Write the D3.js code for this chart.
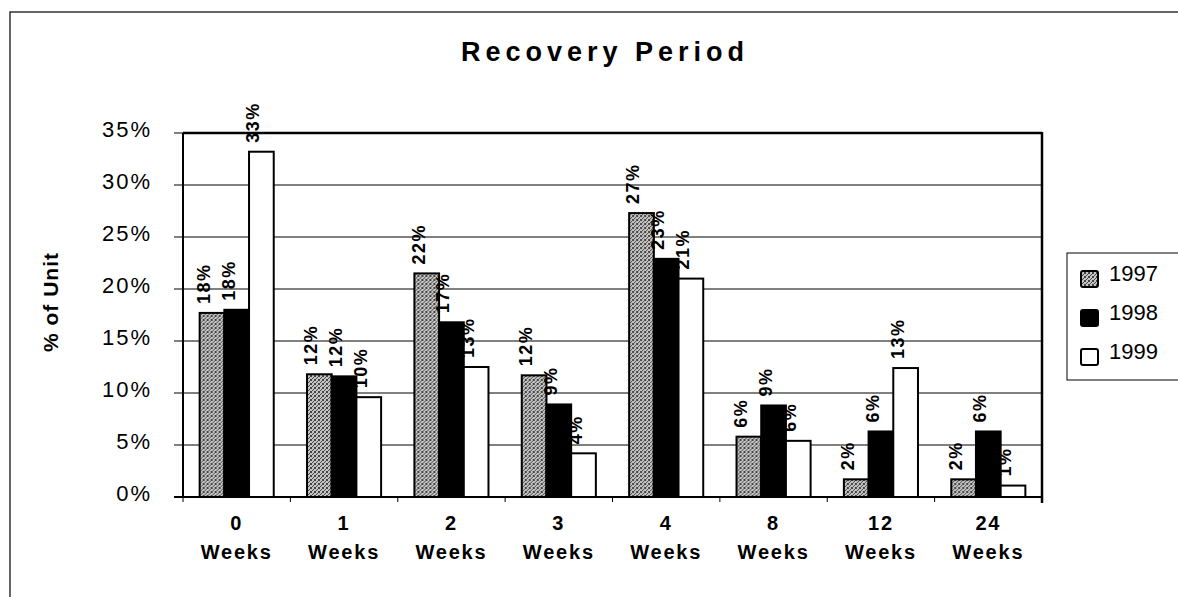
<!DOCTYPE html>
<meta charset="utf-8">
<style>
body { margin: 0; background: #fff; }
svg { display: block; font-family: "Liberation Sans", Arial, sans-serif; }
.grid line { stroke: #000; stroke-width: 1; }
.ytick { font-size: 22px; letter-spacing: 2px; }
.xtick { font-size: 20px; font-weight: bold; letter-spacing: 1.8px; }
.lbl { font-size: 18px; font-weight: bold; letter-spacing: 1.5px; }
</style>
<body>
<svg width="1178" height="597"></svg>
<script src="https://cdn.jsdelivr.net/npm/d3@7"></script>
<script>

// data
var weeks = ["0", "1", "2", "3", "4", "8", "12", "24"];
var years = ["1997", "1998", "1999"];
var v1997 = [17.7, 11.8, 21.5, 11.7, 27.3, 5.8, 1.7, 1.7];
var v1998 = [18.0, 11.6, 16.8, 8.9, 22.9, 8.8, 6.3, 6.3];
var v1999 = [33.2, 9.6, 12.5, 4.2, 21.0, 5.4, 12.4, 1.1];
var lab1997 = ["18%", "12%", "22%", "12%", "27%", "6%", "2%", "2%"];
var lab1998 = ["18%", "12%", "17%", "9%", "23%", "9%", "6%", "6%"];
var lab1999 = ["33%", "10%", "13%", "4%", "21%", "6%", "13%", "1%"];
var yTicks = [0, 5, 10, 15, 20, 25, 30, 35];

var series = [v1997, v1998, v1999];
var labels = [lab1997, lab1998, lab1999];

var svg = d3.select("svg");

// stipple for 1997
var pat = svg.append("defs").append("pattern")
    .attr("id", "stip")
    .attr("width", 4).attr("height", 4)
    .attr("patternUnits", "userSpaceOnUse");
pat.append("rect").attr("width", 4).attr("height", 4).attr("fill", "#c4c4c4");
[[0,0],[2,1],[1,2],[3,3],[3,0],[0,3]].forEach(function(p) {
  pat.append("rect").attr("x", p[0]).attr("y", p[1]).attr("width", 1).attr("height", 1).attr("fill", "#444");
});

var fills = ["url(#stip)", "#000", "#fff"];

// outer frame
svg.append("rect")
    .attr("x", 10).attr("y", 12)
    .attr("width", 1200).attr("height", 620)
    .attr("fill", "none").attr("stroke", "#000").attr("stroke-width", 1.2);

var pLeft = 183, pRight = 1042, pTop = 133, pBottom = 497;

var y = d3.scaleLinear().domain([0, 35]).range([pBottom, pTop]);
var x0 = d3.scaleBand().domain(weeks).range([pLeft, pRight])
    .paddingInner(0.31).paddingOuter(0.155);
var x1 = d3.scaleBand().domain(years).range([0, x0.bandwidth()]);
var step = x0.step();

svg.append("text")
    .attr("x", 605)
    .attr("y", 61)
    .attr("text-anchor", "middle")
    .attr("font-size", 27)
    .attr("font-weight", "bold")
    .attr("letter-spacing", 5)
    .text("Recovery Period");

// gridlines
svg.append("g").attr("class", "grid")
  .selectAll("line")
  .data(yTicks)
  .enter().append("line")
    .attr("x1", pLeft - 9).attr("x2", pRight)
    .attr("y1", function(d) { return y(d); })
    .attr("y2", function(d) { return y(d); });

svg.append("g")
  .selectAll("text")
  .data(yTicks)
  .enter().append("text")
    .attr("class", "ytick")
    .attr("x", 152)
    .attr("y", function(d) { return y(d) + 4; })
    .attr("text-anchor", "end")
    .text(function(d) { return d + "%"; });

svg.append("text")
    .attr("transform", "translate(58,302) rotate(-90)")
    .attr("text-anchor", "middle")
    .attr("font-size", 21)
    .attr("font-weight", "bold")
    .attr("letter-spacing", 1)
    .text("% of Unit");

// bars
var groups = svg.append("g")
  .selectAll("g")
  .data(weeks)
  .enter().append("g")
    .attr("transform", function(d) { return "translate(" + x0(d) + ",0)"; });

function rows(d, i) {
  return years.map(function(yr, k) { return {k: k, v: series[k][i], t: labels[k][i]}; });
}

groups.selectAll("rect")
  .data(rows)
  .enter().append("rect")
    .attr("x", function(d) { return x1(years[d.k]); })
    .attr("y", function(d) { return y(d.v); })
    .attr("width", x1.bandwidth())
    .attr("height", function(d) { return pBottom - y(d.v); })
    .attr("fill", function(d) { return fills[d.k]; })
    .attr("stroke", "#000")
    .attr("stroke-width", 2);

groups.selectAll("text")
  .data(rows)
  .enter().append("text")
    .attr("class", "lbl")
    .attr("transform", function(d) {
      var cx = x1(years[d.k]) + x1.bandwidth() / 2 - 2;
      return "translate(" + cx + "," + (y(d.v) - 9) + ") rotate(-90)";
    })
    .text(function(d) { return d.t; });

// plot frame
svg.append("line").attr("x1", pLeft).attr("x2", pLeft).attr("y1", pTop).attr("y2", pBottom + 1)
    .attr("stroke", "#000").attr("stroke-width", 2);
svg.append("line").attr("x1", pRight).attr("x2", pRight).attr("y1", pTop - 1).attr("y2", pBottom + 6)
    .attr("stroke", "#000").attr("stroke-width", 2.5);
svg.append("line").attr("x1", pLeft).attr("x2", pRight).attr("y1", pTop).attr("y2", pTop)
    .attr("stroke", "#000").attr("stroke-width", 2.5);
svg.append("line").attr("x1", pLeft - 9).attr("x2", pRight).attr("y1", pBottom).attr("y2", pBottom)
    .attr("stroke", "#000").attr("stroke-width", 2);

// category ticks
svg.append("g")
  .selectAll("line")
  .data(d3.range(weeks.length + 1))
  .enter().append("line")
    .attr("x1", function(i) { return pLeft + i * step; })
    .attr("x2", function(i) { return pLeft + i * step; })
    .attr("y1", pBottom).attr("y2", pBottom + 5)
    .attr("stroke", "#000").attr("stroke-width", 1);

var xl = svg.append("g")
  .selectAll("g")
  .data(weeks)
  .enter().append("g")
    .attr("transform", function(d) { return "translate(" + (x0(d) + x0.bandwidth() / 2) + ",0)"; });
xl.append("text").attr("class", "xtick").attr("y", 530).attr("text-anchor", "middle")
    .text(function(d) { return d; });
xl.append("text").attr("class", "xtick").attr("y", 559).attr("text-anchor", "middle")
    .text("Weeks");

// legend
var lg = svg.append("g");
lg.append("rect")
    .attr("x", 1067).attr("y", 253)
    .attr("width", 130).attr("height", 127)
    .attr("fill", "#fff").attr("stroke", "#000").attr("stroke-width", 1);
var li = lg.selectAll("g.item")
  .data(years)
  .enter().append("g")
    .attr("transform", function(d, i) { return "translate(1081," + (281 + i * 39) + ")"; });
li.append("rect")
    .attr("x", 0).attr("y", -10)
    .attr("width", 17).attr("height", 16)
    .attr("rx", 2)
    .attr("fill", function(d, i) { return fills[i]; })
    .attr("stroke", "#000").attr("stroke-width", 2);
li.append("text")
    .attr("x", 28).attr("y", 0)
    .attr("font-size", 22)
    .text(function(d) { return d; });

</script>
</body>
